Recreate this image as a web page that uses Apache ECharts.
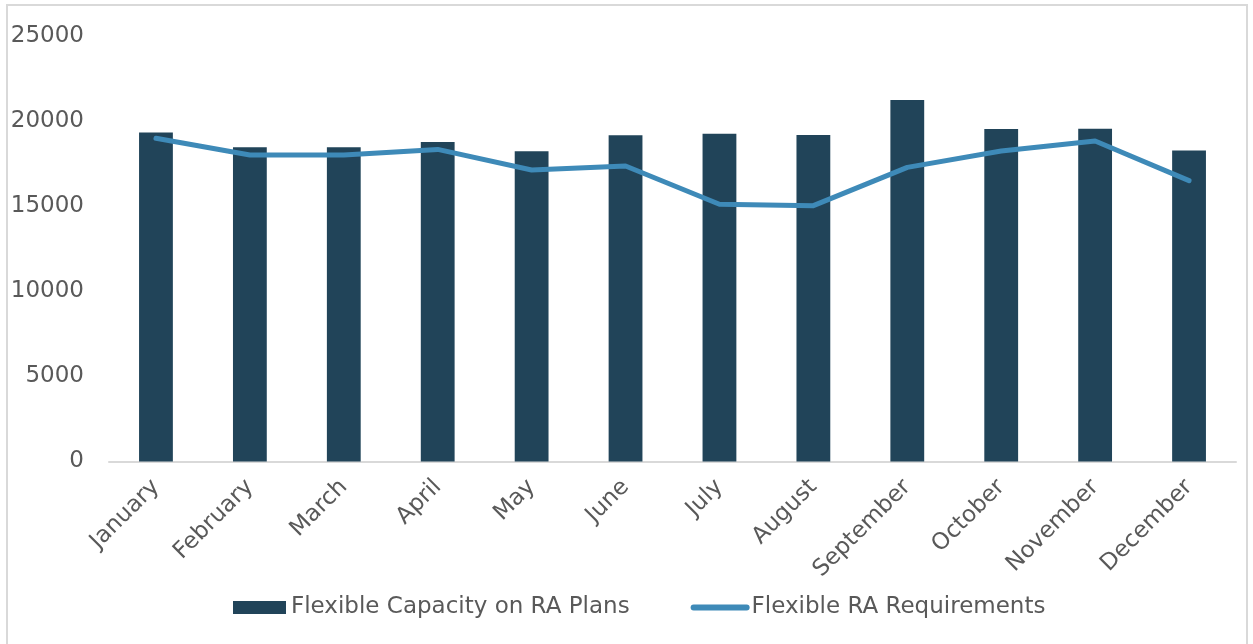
<!DOCTYPE html>
<html>
<head>
<meta charset="utf-8">
<script src="https://cdn.jsdelivr.net/npm/echarts@6/dist/echarts.min.js"></script>
<style>
  html, body { margin: 0; padding: 0; background: #fff; }
  #main { width: 1253px; height: 644px; }
</style>
</head>
<body>
<div id="main"></div>
<script>
// 月份
var months = ['January', 'February', 'March', 'April', 'May', 'June',
    'July', 'August', 'September', 'October', 'November', 'December'];
// RA 计划上的灵活容量 (柱)
var capacityOnPlans = [19360, 18480, 18480, 18790, 18250, 19190,
    19280, 19200, 21260, 19560, 19580, 18300];
// 灵活 RA 需求 (折线)
var raRequirements = [19010, 18030, 18030, 18360, 17150, 17380,
    15130, 15050, 17300, 18260, 18850, 16520];

var myChart = echarts.init(document.getElementById('main'));
var fontName = 'DejaVu Sans';
var textGray = '#595959';

var option = {
    backgroundColor: '#fff',
    animation: false,
    graphic: [{
        type: 'rect',
        shape: { x: 7, y: 5, width: 1240, height: 640 },
        style: { fill: 'none', stroke: '#d9d9d9', lineWidth: 2 },
        silent: true
    }],
    grid: { left: 109, right: 17, top: 36.5, bottom: 182.5 },
    legend: {
        top: 596,
        left: 233,
        padding: 0,
        itemGap: 61,
        itemWidth: 53,
        itemHeight: 13,
        textStyle: { color: textGray, fontSize: 23, fontFamily: fontName },
        data: [
            { name: 'Flexible Capacity on RA Plans', icon: 'rect' },
            {
                name: 'Flexible RA Requirements',
                itemStyle: { opacity: 0 },
                lineStyle: { width: 6, cap: 'round', color: '#3e8ab8' }
            }
        ]
    },
    xAxis: {
        type: 'category',
        data: months,
        axisLine: { lineStyle: { color: '#d9d9d9', width: 2 } },
        axisTick: { show: false },
        axisLabel: {
            rotate: 45,
            interval: 0,
            margin: 22,
            color: textGray,
            fontSize: 23,
            fontFamily: fontName
        }
    },
    yAxis: {
        type: 'value',
        min: 0,
        max: 25000,
        interval: 5000,
        splitLine: { show: false },
        axisLine: { show: false },
        axisTick: { show: false },
        axisLabel: {
            margin: 25,
            color: textGray,
            fontSize: 23,
            fontFamily: fontName,
            formatter: function (v) { return String(v); }
        }
    },
    series: [
        {
            name: 'Flexible Capacity on RA Plans',
            type: 'bar',
            data: capacityOnPlans,
            barWidth: '36%',
            itemStyle: { color: '#214459' }
        },
        {
            name: 'Flexible RA Requirements',
            type: 'line',
            data: raRequirements,
            symbol: 'none',
            lineStyle: { color: '#3e8ab8', width: 5, cap: 'round', join: 'round' },
            itemStyle: { color: '#3e8ab8' }
        }
    ]
};

myChart.setOption(option);
</script>
</body>
</html>
